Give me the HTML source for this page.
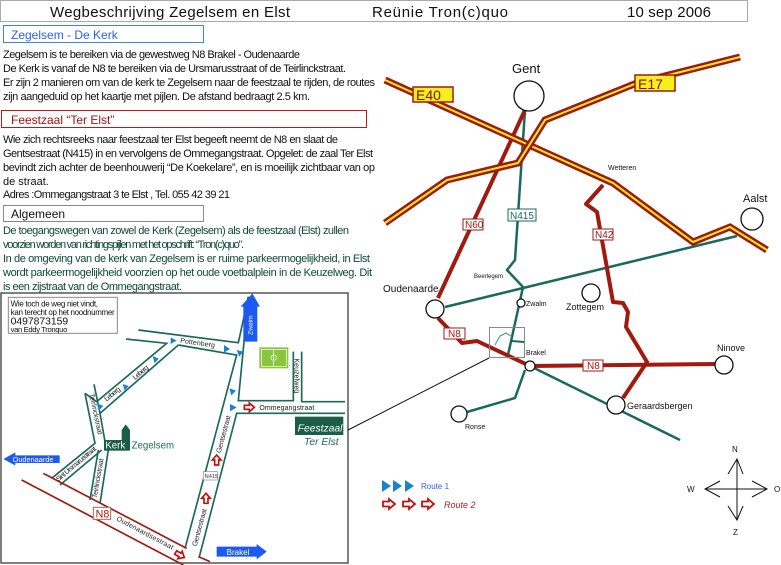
<!DOCTYPE html>
<html><head><meta charset="utf-8"><style>
html,body{margin:0;padding:0;background:#fff;}
svg{display:block;font-family:"Liberation Sans",sans-serif;}
</style></head><body>
<svg width="781" height="565" viewBox="0 0 781 565" xmlns="http://www.w3.org/2000/svg">
<rect width="781" height="565" fill="#fff"/>
<!-- header -->
<rect x="0.5" y="0.5" width="747" height="21" fill="#fff" stroke="#aaa"/>
<text x="50" y="17" font-size="15" fill="#111" textLength="240">Wegbeschrijving Zegelsem en Elst</text>
<text x="372" y="17" font-size="15" fill="#111" textLength="136">Reünie Tron(c)quo</text>
<text x="627" y="17" font-size="15" fill="#111" textLength="84">10 sep 2006</text>

<rect x="3.5" y="25.5" width="200" height="17" fill="#fff" stroke="#3a8ac8"/>
<text x="11" y="39" font-size="12" fill="#2a60e8">Zegelsem  -  De Kerk</text>
<g font-size="11" fill="#111">
<text x="3" y="58" textLength="297">Zegelsem is te bereiken via de gewestweg N8 Brakel - Oudenaarde</text>
<text x="3" y="72" textLength="343">De Kerk is vanaf de N8 te bereiken via de Ursmarusstraat of de Teirlinckstraat.</text>
<text x="3" y="86" textLength="372">Er zijn 2 manieren om van de kerk te Zegelsem naar de feestzaal te rijden, de routes</text>
<text x="3" y="100" textLength="307">zijn aangeduid op het kaartje met pijlen. De afstand bedraagt 2.5 km.</text>
</g>
<rect x="1.5" y="110.5" width="365" height="17" fill="#fff" stroke="#c01818"/>
<text x="11" y="124" font-size="12" fill="#a01010">Feestzaal “Ter Elst”</text>
<g font-size="11" fill="#111">
<text x="3" y="143" textLength="335">Wie zich rechtsreeks naar feestzaal ter Elst begeeft neemt de N8 en slaat de</text>
<text x="3" y="157" textLength="370">Gentsestraat (N415) in en vervolgens de Ommegangstraat. Opgelet: de zaal Ter Elst</text>
<text x="3" y="171" textLength="372">bevindt zich achter de beenhouwerij “De Koekelare”, en is moeilijk zichtbaar van op</text>
<text x="3" y="185">de straat.</text>
<text x="3" y="198" textLength="227">Adres :Ommegangstraat 3 te Elst , Tel. 055 42 39 21</text>
</g>
<rect x="3.5" y="205.5" width="200" height="16" fill="#fff" stroke="#888"/>
<text x="11" y="218" font-size="12" fill="#111">Algemeen</text>
<g font-size="11" fill="#0c4a30">
<text x="3" y="234" textLength="346">De toegangswegen van zowel de Kerk (Zegelsem) als de feestzaal (Elst) zullen</text>
<text x="3" y="248" textLength="241">voorzien worden van richtingspijlen met het opschrift: “Tron(c)quo”.</text>
<text x="3" y="262" textLength="367">In de omgeving van de kerk van Zegelsem is er ruime parkeermogelijkheid,  in Elst</text>
<text x="3" y="276" textLength="369">wordt parkeermogelijkheid voorzien op het oude voetbalplein in de Keuzelweg. Dit</text>
<text x="3" y="290" textLength="179">is een zijstraat van de Ommegangstraat.</text>
</g>

<!-- left map frame -->
<rect x="1" y="293" width="347" height="270" fill="#fff" stroke="#555" stroke-width="1.5"/>
<line x1="348" y1="430" x2="489" y2="358" stroke="#111" stroke-width="1"/>

<g transform="translate(0,290) scale(0.33333)">
 <rect x="25" y="22" width="327" height="108" fill="#fff" stroke="#888" stroke-width="3"/>
 <text x="32" y="50" font-size="24" fill="#111" textLength="262">Wie toch de weg niet vindt,</text>
 <text x="32" y="75" font-size="24" fill="#111" textLength="312">kan terecht op het noodnummer</text>
 <text x="32" y="103" font-size="31" fill="#111">0497873159</text>
 <text x="32" y="126" font-size="23" fill="#111" textLength="170">van Eddy Tronquo</text>
 <g stroke="#1a6a5a" stroke-width="5" fill="none">
  <polyline points="415,120 715,158 745,20"/>
  <polyline points="378,147 500,160 290,335 255,310"/>
  <polyline points="535,165 710,195 555,775"/>
  <polyline points="535,165 300,370"/>
  <polyline points="282,283 300,370 315,455"/>
  <polyline points="255,310 285,460 155,565"/>
  <polyline points="305,480 180,585"/>
  <polyline points="295,480 270,630"/>
  <polyline points="325,480 300,640"/>
  <polyline points="745,20 715,332 880,332 880,185"/>
  <polyline points="905,185 905,335 1035,335"/>
  <polyline points="1035,370 710,370 598,800"/>
 </g>
 <g stroke="#a01a10" stroke-width="5" fill="none">
  <polyline points="130,550 560,775"/>
  <polyline points="65,570 550,825"/>
  <polyline points="595,800 630,815"/>
 </g>
 <!-- road labels -->
 <g font-size="21" fill="#222">
  <text transform="translate(540,158) rotate(8)" textLength="105">Pottenberg</text>
  <text transform="translate(320,335) rotate(-40)" textLength="55">Leberg</text>
  <text transform="translate(405,270) rotate(-40)" textLength="55">Leberg</text>
  <text transform="translate(268,312) rotate(78)" textLength="125">Teirlinckstraat</text>
  <text transform="translate(175,575) rotate(-40)" textLength="150">Sint Ursmarusstraat</text>
  <text transform="translate(290,625) rotate(-80)" textLength="120">Teirlinckstraat</text>
  <text transform="translate(348,690) rotate(28)" textLength="190">Oudenaardsestraat</text>
  <text transform="translate(590,770) rotate(-75)" textLength="115">Gentsestraat</text>
  <text transform="translate(662,490) rotate(-75)" textLength="115">Gentsestraat</text>
  <text transform="translate(883,205) rotate(90)" textLength="105">Keuzelweg</text>
  <text x="778" y="360" textLength="165">Ommegangstraat</text>
 </g>
 <rect x="280" y="652" width="52" height="36" fill="#fff" stroke="#c06050" stroke-width="3"/>
 <text x="287" y="682" font-size="32" fill="#a01a10">N8</text>
 <rect x="610" y="545" width="42" height="25" fill="#fff" stroke="#888" stroke-width="2"/>
 <text x="614" y="564" font-size="17" fill="#333">N415</text>
 <!-- football field -->
 <rect x="778" y="172" width="87" height="63" fill="#8cc63e"/>
 <rect x="784" y="178" width="75" height="51" fill="none" stroke="#fff" stroke-width="2"/>
 <line x1="821" y1="178" x2="821" y2="229" stroke="#fff" stroke-width="2"/>
 <circle cx="821" cy="203" r="8" fill="none" stroke="#fff" stroke-width="2"/>
 <!-- Feestzaal -->
 <rect x="885" y="380" width="145" height="55" fill="#1a5e46"/>
 <text x="893" y="424" font-size="31" font-style="italic" fill="#fff">Feestzaal</text>
 <text x="912" y="465" font-size="31" font-style="italic" fill="#1a6a5a">Ter Elst</text>
 <!-- Kerk -->
 <polygon points="365,450 365,420 377,403 390,420 390,450" fill="#1a5e46"/>
 <rect x="312" y="450" width="78" height="32" fill="#1a5e46"/>
 <text x="316" y="476" font-size="29" fill="#fff">Kerk</text>
 <text x="395" y="476" font-size="29" fill="#1a6a5a">Zegelsem</text>
 <!-- blue arrows -->
 <polygon points="12,507 45,489 45,497 178,497 178,518 45,518 45,525" fill="#1d5af0" stroke="#1d5af0" stroke-width="2"/>
 <text x="38" y="516" font-size="22" fill="#fff">Oudenaarde</text>
 <polygon points="650,770 770,770 770,762 800,785 770,808 770,800 650,800" fill="#1d5af0"/>
 <text x="680" y="795" font-size="24" fill="#fff">Brakel</text>
 <polygon points="730,155 730,50 722,50 757,10 780,50 772,50 772,155" fill="#1d5af0"/>
 <text transform="translate(758,135) rotate(-90)" font-size="20" fill="#fff">Zwalm</text>
 <!-- blue route triangles -->
 <g fill="#1a82c8">
  <polygon points="512,142 530,152 512,162"/>
  <polygon points="672,165 690,177 672,188"/>
  <polygon points="710,180 730,185 718,200"/>
  <polygon points="458,198 476,206 464,220"/>
  <polygon points="368,282 386,288 374,302"/>
  <polygon points="292,340 310,348 296,362"/>
  <polygon points="688,295 708,302 694,316"/>
  <polygon points="690,342 710,352 690,364"/>
 </g>
 <!-- red hollow arrows -->
 <g fill="#fff" stroke="#c01010" stroke-width="5">
  <polygon transform="translate(748,352)" points="-15,-6 0,-6 0,-13 15,0 0,13 0,6 -15,6"/>
  <polygon transform="translate(650,510) rotate(-90)" points="-15,-6 0,-6 0,-13 15,0 0,13 0,6 -15,6"/>
  <polygon transform="translate(618,625) rotate(-90)" points="-15,-6 0,-6 0,-13 15,0 0,13 0,6 -15,6"/>
  <polygon transform="translate(540,795) rotate(30)" points="-15,-6 0,-6 0,-13 15,0 0,13 0,6 -15,6"/>
 </g>
</g>

<!-- right regional map -->
<g fill="none">
 <g stroke="#1a6a5a" stroke-width="2.5">
  <polyline points="525,110 515,260 507,270 523,287 508,355"/>
  <line x1="445" y1="307" x2="737" y2="236"/>
  <line x1="530" y1="366" x2="680" y2="440"/>
  <polyline points="525,370 515,398 467,412"/>
 </g>
 <g stroke="#a01a10" stroke-width="4" stroke-linejoin="round">
  <line x1="525" y1="110" x2="438" y2="298"/>
  <polyline points="603,185 586,204 597,212 613,302 623,303 628,312 626,327 647,362 623,398"/>
  <polyline points="438,318 462,343 477,341 530,366"/>
  <line x1="530" y1="366" x2="715" y2="364"/>
 </g>
 <g stroke-linejoin="miter">
  <polyline points="385,80 613,183 693,242 730,227 767,250" stroke="#a01a10" stroke-width="7"/>
  <polyline points="385,80 613,183 693,242 730,227 767,250" stroke="#f5ef20" stroke-width="2"/>
  <polyline points="385,223 447,180 518,163 545,120 637,83 740,57" stroke="#a01a10" stroke-width="7"/>
  <polyline points="385,223 447,180 518,163 545,120 637,83 740,57" stroke="#f5ef20" stroke-width="2"/>
 </g>
 <g fill="#fff" stroke="#111" stroke-width="1.3">
  <circle cx="529" cy="96" r="15"/>
  <circle cx="435" cy="309" r="9"/>
  <circle cx="752" cy="219" r="11"/>
  <circle cx="591" cy="293" r="9"/>
  <circle cx="521" cy="303" r="4"/>
  <circle cx="530" cy="366" r="5"/>
  <circle cx="724" cy="365" r="9"/>
  <circle cx="616" cy="405" r="9"/>
  <circle cx="459" cy="414" r="8"/>
 </g>
 <rect x="489.5" y="327.5" width="35" height="30" stroke="#888" stroke-width="1"/>
 <polyline points="495,345 500,336 506,333 512,337" stroke="#3a9a8a" stroke-width="1"/>
 <line x1="512" y1="341" x2="524" y2="342" stroke="#1a6a5a" stroke-width="2"/>
</g>
<rect x="413" y="87" width="40" height="15" fill="#f5ef20" stroke="#a01a10" stroke-width="1.5"/>
<text x="416" y="100" font-size="14" fill="#7a1010">E40</text>
<rect x="635" y="75" width="40" height="16" fill="#f5ef20" stroke="#a01a10" stroke-width="1.5"/>
<text x="638" y="89" font-size="14" fill="#7a1010">E17</text>
<g font-size="10" fill="#a01a10">
 <rect x="463" y="219" width="20" height="11" fill="#fff" stroke="#a01a10"/><text x="465" y="228">N60</text>
 <rect x="593" y="229" width="20" height="11" fill="#fff" stroke="#a01a10"/><text x="595" y="238">N42</text>
 <rect x="444" y="328" width="21" height="11" fill="#fff" stroke="#a01a10"/><text x="448" y="337">N8</text>
 <rect x="583" y="360" width="20" height="11" fill="#fff" stroke="#a01a10"/><text x="587" y="369">N8</text>
</g>
<rect x="508" y="209" width="28" height="12" fill="#fff" stroke="#1a6a5a"/>
<text x="510" y="219" font-size="10" fill="#1a6a5a">N415</text>
<g fill="#111">
 <text x="512" y="73" font-size="13">Gent</text>
 <text x="383" y="292" font-size="10">Oudenaarde</text>
 <text x="743" y="202" font-size="11">Aalst</text>
 <text x="608" y="170" font-size="7">Wetteren</text>
 <text x="474" y="278" font-size="6">Beerlegem</text>
 <text x="526" y="306" font-size="7">Zwalm</text>
 <text x="566" y="310" font-size="9">Zottegem</text>
 <text x="526" y="355" font-size="7">Brakel</text>
 <text x="717" y="351" font-size="9">Ninove</text>
 <text x="627" y="409" font-size="9">Geraardsbergen</text>
 <text x="465" y="429" font-size="7">Ronse</text>
</g>

<!-- legend -->
<g fill="#1a82c8">
 <polygon points="382,480 391,486 382,492"/>
 <polygon points="393,480 402,486 393,492"/>
 <polygon points="405,480 414,486 405,492"/>
</g>
<text x="421" y="489" font-size="8" fill="#2a60e8">Route 1</text>
<g fill="#fff" stroke="#c01010" stroke-width="1.8">
 <polygon transform="translate(389,504)" points="-6,-2.5 0,-2.5 0,-5 6,0 0,5 0,2.5 -6,2.5"/>
 <polygon transform="translate(409,504)" points="-6,-2.5 0,-2.5 0,-5 6,0 0,5 0,2.5 -6,2.5"/>
 <polygon transform="translate(428,504)" points="-6,-2.5 0,-2.5 0,-5 6,0 0,5 0,2.5 -6,2.5"/>
</g>
<text x="444" y="508" font-size="9" font-style="italic" fill="#b02020">Route 2</text>

<!-- compass -->
<g stroke="#111" stroke-width="1" fill="none">
 <line x1="737" y1="459" x2="737" y2="520"/>
 <line x1="705" y1="489" x2="767" y2="489"/>
 <polyline points="728,474 737,459 743,474"/>
 <polyline points="728,506 737,520 743,506"/>
 <polyline points="720,481 705,489 720,497"/>
 <polyline points="752,481 767,489 752,497"/>
</g>
<g font-size="8" fill="#111">
 <text x="732" y="452">N</text>
 <text x="687" y="492">W</text>
 <text x="774" y="492">O</text>
 <text x="733" y="535">Z</text>
</g>
</svg>
</body></html>
